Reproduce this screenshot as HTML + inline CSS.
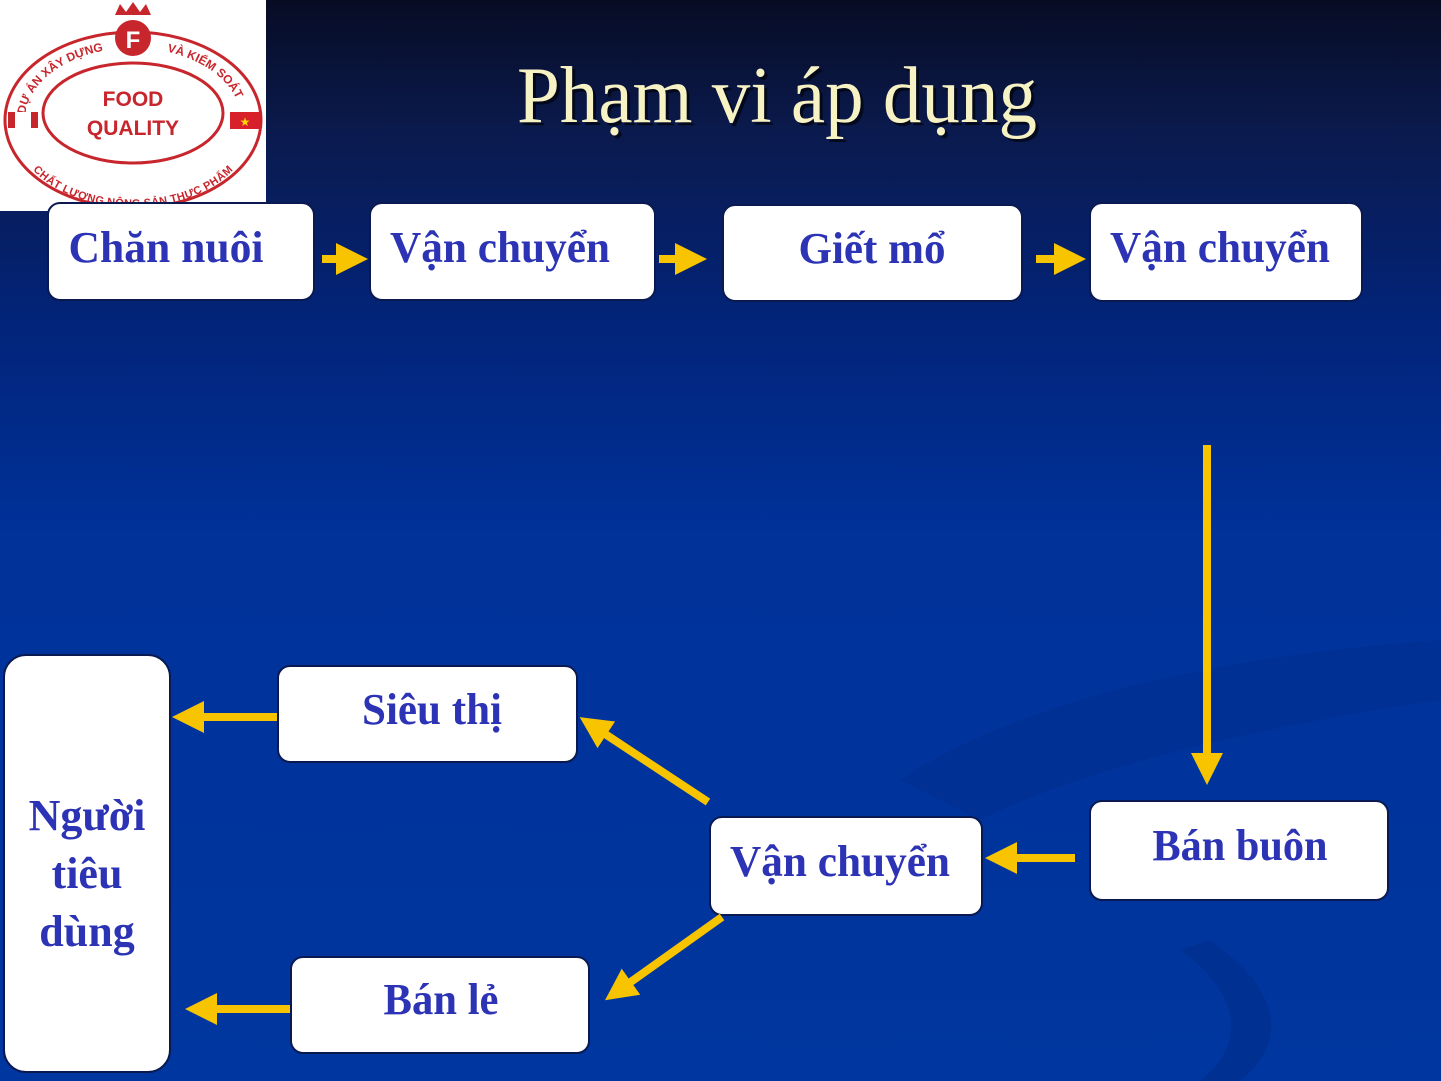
<!DOCTYPE html>
<html><head><meta charset="utf-8"><style>
html,body{margin:0;padding:0;width:1441px;height:1081px;overflow:hidden;background:#0036a0}
svg{display:block}
.b{font-family:"Liberation Serif",serif;font-weight:bold;fill:#2c33b4;font-size:44px}
</style></head><body>
<svg width="1441" height="1081" viewBox="0 0 1441 1081" xmlns="http://www.w3.org/2000/svg">
<defs>
<linearGradient id="bg" x1="0" y1="0" x2="0" y2="1">
<stop offset="0" stop-color="#070c24"/>
<stop offset="0.12" stop-color="#0b1a4d"/>
<stop offset="0.3" stop-color="#02247a"/>
<stop offset="0.5" stop-color="#00329a"/>
<stop offset="1" stop-color="#00369f"/>
</linearGradient>
<marker id="ah" markerWidth="4" markerHeight="4" refX="2" refY="2" orient="auto" markerUnits="strokeWidth">
<path d="M0,0 L4,2 L0,4 Z" fill="#f8c400"/>
</marker>
<path id="arcTop" d="M25,120 A108,72 0 0 1 241,120"/>
<path id="arcBot" d="M22,128 A111,72 0 0 0 244,128"/>
</defs>
<rect width="1441" height="1081" fill="url(#bg)"/>
<path d="M900,780 C1050,680 1300,650 1441,640 L1441,700 C1300,720 1100,760 980,820 Z" fill="#002f90" opacity="0.6"/>
<path d="M1180,950 C1250,1000 1240,1050 1200,1081 L1240,1081 C1290,1040 1280,990 1210,940 Z" fill="#002d8a" opacity="0.6"/>

<!-- logo -->
<rect x="0" y="0" width="266" height="211" fill="#fff"/>
<ellipse cx="133" cy="120" rx="128" ry="88" fill="none" stroke="#c8262d" stroke-width="3"/>
<ellipse cx="133" cy="113" rx="90" ry="50" fill="none" stroke="#c8262d" stroke-width="3"/>
<text font-family="Liberation Sans,sans-serif" font-weight="bold" font-size="12" fill="#c8262d"><textPath href="#arcTop" startOffset="2%">DỰ ÁN XÂY DỰNG</textPath></text>
<text font-family="Liberation Sans,sans-serif" font-weight="bold" font-size="12" fill="#c8262d"><textPath href="#arcTop" startOffset="62%">VÀ KIỂM SOÁT</textPath></text>
<text font-family="Liberation Sans,sans-serif" font-weight="bold" font-size="11" fill="#c8262d" dominant-baseline="hanging"><textPath href="#arcBot" startOffset="50%" text-anchor="middle">CHẤT LƯỢNG NÔNG SẢN THỰC PHẨM</textPath></text>
<circle cx="133" cy="38" r="18" fill="#c8262d"/>
<text x="133" y="48" text-anchor="middle" font-family="Liberation Sans,sans-serif" font-weight="bold" font-size="24" fill="#fff">F</text>
<path d="M115,15 L120,4 L126,12 L133,2 L140,12 L146,4 L151,15 Z" fill="#c8262d"/>
<text x="133" y="106" text-anchor="middle" font-family="Liberation Sans,sans-serif" font-weight="bold" font-size="21" fill="#c8262d">FOOD</text>
<text x="133" y="135" text-anchor="middle" font-family="Liberation Sans,sans-serif" font-weight="bold" font-size="21" fill="#c8262d">QUALITY</text>
<rect x="8" y="112" width="30" height="16" fill="#c8262d"/><rect x="15" y="112" width="16" height="16" fill="#fff"/>
<rect x="230" y="112" width="30" height="17" fill="#d8202a"/><text x="245" y="126" text-anchor="middle" font-size="12" fill="#ffd800">★</text>

<!-- title -->
<text x="777" y="122" text-anchor="middle" font-family="Liberation Serif,serif" font-size="80" fill="#000" opacity="0.6" textLength="520" lengthAdjust="spacingAndGlyphs" transform="translate(3 3)">Phạm vi áp dụng</text>
<text x="777" y="122" text-anchor="middle" font-family="Liberation Serif,serif" font-size="80" fill="#f6f2c4" textLength="520" lengthAdjust="spacingAndGlyphs">Phạm vi áp dụng</text>

<!-- boxes -->
<g fill="#fff" stroke="#0a1a50" stroke-width="2">
<rect x="48" y="203" width="266" height="97" rx="12"/>
<rect x="370" y="203" width="285" height="97" rx="12"/>
<rect x="723" y="205" width="299" height="96" rx="12"/>
<rect x="1090" y="203" width="272" height="98" rx="12"/>
<rect x="1090" y="801" width="298" height="99" rx="12"/>
<rect x="710" y="817" width="272" height="98" rx="12"/>
<rect x="278" y="666" width="299" height="96" rx="12"/>
<rect x="291" y="957" width="298" height="96" rx="12"/>
<rect x="4" y="655" width="166" height="417" rx="22"/>
</g>
<text class="b" x="166" y="262" text-anchor="middle" textLength="195" lengthAdjust="spacingAndGlyphs">Chăn nuôi</text>
<text class="b" x="500" y="262" text-anchor="middle" textLength="220" lengthAdjust="spacingAndGlyphs">Vận chuyển</text>
<text class="b" x="872" y="263" text-anchor="middle" textLength="147" lengthAdjust="spacingAndGlyphs">Giết mổ</text>
<text class="b" x="1220" y="262" text-anchor="middle" textLength="220" lengthAdjust="spacingAndGlyphs">Vận chuyển</text>
<text class="b" x="1240" y="860" text-anchor="middle" textLength="175" lengthAdjust="spacingAndGlyphs">Bán buôn</text>
<text class="b" x="840" y="876" text-anchor="middle" textLength="220" lengthAdjust="spacingAndGlyphs">Vận chuyển</text>
<text class="b" x="432" y="724" text-anchor="middle" textLength="140" lengthAdjust="spacingAndGlyphs">Siêu thị</text>
<text class="b" x="441" y="1014" text-anchor="middle" textLength="115" lengthAdjust="spacingAndGlyphs">Bán lẻ</text>
<text class="b" x="87" y="830" text-anchor="middle">Người</text>
<text class="b" x="87" y="888" text-anchor="middle">tiêu</text>
<text class="b" x="87" y="946" text-anchor="middle">dùng</text>

<!-- arrows -->
<g stroke="#f8c400" stroke-width="8" fill="none">
<line x1="322" y1="259" x2="352" y2="259" marker-end="url(#ah)"/>
<line x1="659" y1="259" x2="691" y2="259" marker-end="url(#ah)"/>
<line x1="1036" y1="259" x2="1070" y2="259" marker-end="url(#ah)"/>
<line x1="1207" y1="445" x2="1207" y2="769" marker-end="url(#ah)"/>
<line x1="1075" y1="858" x2="1001" y2="858" marker-end="url(#ah)"/>
<line x1="708" y1="802" x2="593" y2="726" marker-end="url(#ah)"/>
<line x1="722" y1="917" x2="618" y2="991" marker-end="url(#ah)"/>
<line x1="277" y1="717" x2="188" y2="717" marker-end="url(#ah)"/>
<line x1="290" y1="1009" x2="201" y2="1009" marker-end="url(#ah)"/>
</g>
</svg>
</body></html>
